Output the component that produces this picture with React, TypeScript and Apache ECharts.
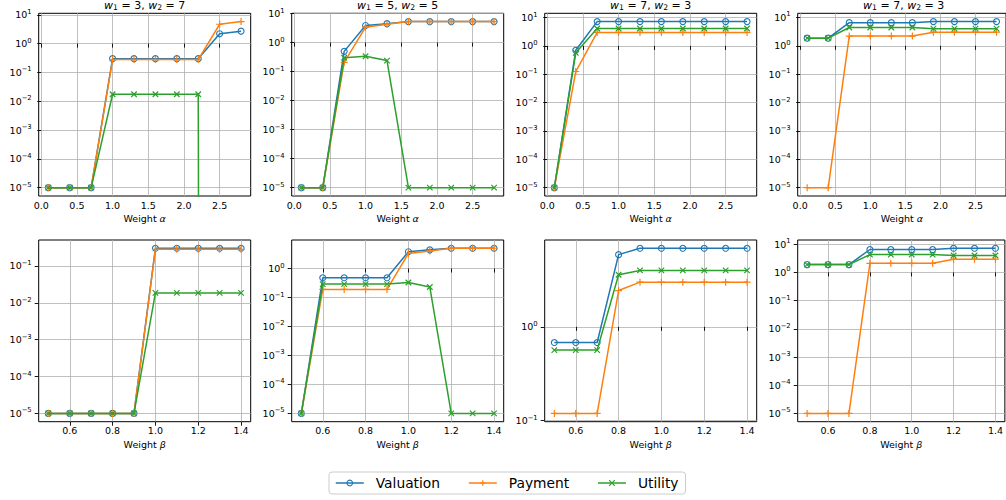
import { useEffect, useRef } from 'react';
import * as echarts from 'echarts';

// ---------- data ----------
const alphaValues = [0.1, 0.4, 0.7, 1.0, 1.3, 1.6, 1.9, 2.2, 2.5, 2.8];
const betaValues = [0.5, 0.6, 0.7, 0.8, 0.9, 1.0, 1.1, 1.2, 1.3, 1.4];
const alphaTicks = [0, 0.5, 1.0, 1.5, 2.0, 2.5];
const betaTicks = [0.6, 0.8, 1.0, 1.2, 1.4];
const titleW1 = [3, 5, 7, 7];
const titleW2 = [7, 5, 3, 3];
const seriesNames = ['Valuation', 'Payment', 'Utility'];

// top row (alpha)
const valuationA1 = [1e-5, 1e-5, 1e-5, 0.3, 0.3, 0.3, 0.3, 0.3, 2.2, 2.7];
const paymentA1 = [1e-5, 1e-5, 1e-5, 0.28, 0.28, 0.28, 0.28, 0.28, 4.7, 5.8];
const utilityA1 = [1e-5, 1e-5, 1e-5, 0.0175, 0.0175, 0.0175, 0.0175, 0.0175, 0, 0];

const valuationA2 = [1e-5, 1e-5, 0.5, 3.9, 4.5, 5.3, 5.3, 5.3, 5.3, 5.3];
const paymentA2 = [1e-5, 1e-5, 0.21, 3.4, 4.3, 5.3, 5.3, 5.3, 5.3, 5.3];
const utilityA2 = [1e-5, 1e-5, 0.3, 0.34, 0.24, 1e-5, 1e-5, 1e-5, 1e-5, 1e-5];

const valuationA3 = [1e-5, 0.7, 7.2, 7.2, 7.2, 7.2, 7.2, 7.2, 7.2, 7.2];
const paymentA3 = [1e-5, 0.125, 3.0, 3.0, 3.0, 3.0, 3.0, 3.0, 3.0, 3.0];
const utilityA3 = [1e-5, 0.57, 4.1, 4.1, 4.1, 4.1, 4.1, 4.1, 4.1, 4.1];

const valuationA4 = [1.85, 1.85, 6.5, 6.5, 6.5, 6.5, 7.1, 7.1, 7.1, 7.1];
const paymentA4 = [1e-5, 1e-5, 2.2, 2.2, 2.2, 2.2, 3.0, 3.0, 3.0, 3.0];
const utilityA4 = [1.85, 1.85, 4.4, 4.4, 4.4, 4.4, 4.0, 4.0, 4.0, 4.0];

// bottom row (beta)
const valuationB1 = [1e-5, 1e-5, 1e-5, 1e-5, 1e-5, 0.3, 0.3, 0.3, 0.3, 0.3];
const paymentB1 = [1e-5, 1e-5, 1e-5, 1e-5, 1e-5, 0.28, 0.28, 0.28, 0.28, 0.28];
const utilityB1 = [1e-5, 1e-5, 1e-5, 1e-5, 1e-5, 0.0185, 0.0185, 0.0185, 0.0185, 0.0185];

const valuationB2 = [1e-5, 0.48, 0.48, 0.48, 0.48, 3.8, 4.4, 5.0, 5.0, 5.0];
const paymentB2 = [1e-5, 0.19, 0.19, 0.19, 0.19, 3.3, 4.0, 5.0, 5.0, 5.0];
const utilityB2 = [1e-5, 0.29, 0.29, 0.29, 0.29, 0.33, 0.23, 1e-5, 1e-5, 1e-5];

const valuationB3 = [0.68, 0.68, 0.68, 5.9, 6.9, 6.9, 6.9, 6.9, 6.9, 6.9];
const paymentB3 = [0.119, 0.119, 0.119, 2.44, 3.0, 3.0, 3.0, 3.0, 3.0, 3.0];
const utilityB3 = [0.565, 0.565, 0.565, 3.6, 4.0, 4.0, 4.0, 4.0, 4.0, 4.0];

const valuationB4 = [1.9, 1.9, 1.9, 6.5, 6.5, 6.5, 6.5, 7.2, 7.2, 7.2];
const paymentB4 = [1e-5, 1e-5, 1e-5, 2.1, 2.1, 2.1, 2.1, 2.95, 2.95, 2.95];
const utilityB4 = [1.9, 1.9, 1.9, 4.3, 4.3, 4.3, 4.3, 4.0, 4.0, 4.0];

// ---------- styling / layout ----------
const FONT = '"DejaVu Sans", sans-serif';
const COLORS = ['#1f77b4', '#ff7f0e', '#2ca02c'];
const SYMBOLS = ['circle', 'path://M5,0L5,10M0,5L10,5', 'path://M0,0L10,10M10,0L0,10'];
const SYMBOL_SIZES = [6, 7, 5.5];
const PANEL_LEFTS = [38.7, 291.7, 544.7, 797.7];
const PANEL_WIDTH = 212;
const ROW_TOPS = [13.3, 240];
const ROW_HEIGHTS = [182.7, 181.7];
const GRID_COLOR = '#b0b0b0';

type Panel = {
  row: number;
  col: number;
  x: number[];
  ticks: number[];
  greek: string;
  values: number[][];
};

const panels: Panel[] = [
  { row: 0, col: 0, x: alphaValues, ticks: alphaTicks, greek: 'α', values: [valuationA1, paymentA1, utilityA1] },
  { row: 0, col: 1, x: alphaValues, ticks: alphaTicks, greek: 'α', values: [valuationA2, paymentA2, utilityA2] },
  { row: 0, col: 2, x: alphaValues, ticks: alphaTicks, greek: 'α', values: [valuationA3, paymentA3, utilityA3] },
  { row: 0, col: 3, x: alphaValues, ticks: alphaTicks, greek: 'α', values: [valuationA4, paymentA4, utilityA4] },
  { row: 1, col: 0, x: betaValues, ticks: betaTicks, greek: 'β', values: [valuationB1, paymentB1, utilityB1] },
  { row: 1, col: 1, x: betaValues, ticks: betaTicks, greek: 'β', values: [valuationB2, paymentB2, utilityB2] },
  { row: 1, col: 2, x: betaValues, ticks: betaTicks, greek: 'β', values: [valuationB3, paymentB3, utilityB3] },
  { row: 1, col: 3, x: betaValues, ticks: betaTicks, greek: 'β', values: [valuationB4, paymentB4, utilityB4] },
];

// log10 transform; non-positive values are clipped far below the axis (like matplotlib)
const logv = (v: number) => (v > 0 ? Math.log10(v) : -300);

function padRange(vals: number[]): [number, number] {
  const lo = Math.min(...vals);
  const hi = Math.max(...vals);
  const p = (hi - lo) * 0.05;
  return [lo - p, hi + p];
}

const supText = (e: number) => (e < 0 ? '\u2212' + -e : String(e));

const itemStyleFor = (k: number) =>
  k === 0
    ? { color: 'rgba(0,0,0,0)', borderColor: COLORS[k], borderWidth: 1.1 }
    : { color: COLORS[k], borderColor: COLORS[k], borderWidth: 1.2 };

function buildOption() {
  const grid: any[] = [];
  const xAxis: any[] = [];
  const yAxis: any[] = [];
  const series: any[] = [];
  const title: any[] = [];

  panels.forEach((p, i) => {
    grid.push({
      left: PANEL_LEFTS[p.col],
      top: ROW_TOPS[p.row],
      width: PANEL_WIDTH,
      height: ROW_HEIGHTS[p.row],
      show: true,
      borderColor: '#000',
      borderWidth: 1,
      containLabel: false,
    });

    const [xmin, xmax] = padRange(p.x);
    xAxis.push({
      type: 'value',
      gridIndex: i,
      min: xmin,
      max: xmax,
      axisLine: { show: false },
      axisTick: { show: true, length: 4, lineStyle: { color: '#000', width: 0.9 }, customValues: p.ticks },
      axisLabel: {
        customValues: p.ticks,
        margin: 4,
        fontSize: 9.5,
        color: '#000',
        fontFamily: FONT,
        formatter: (v: number) => v.toFixed(1),
      },
      splitLine: { show: true, lineStyle: { color: GRID_COLOR, width: 0.8 } },
      name: `{n|Weight }{g|${p.greek}}`,
      nameLocation: 'middle',
      nameGap: 17.5,
      nameTextStyle: {
        rich: {
          n: { fontSize: 9.5, fontFamily: FONT, color: '#000' },
          g: { fontSize: 9.5, fontFamily: FONT, fontStyle: 'italic', color: '#000' },
        },
      },
    });

    const positives = p.values.flat().filter((v) => v > 0).map(Math.log10);
    const [ymin, ymax] = padRange(positives);
    const yTicks: number[] = [];
    for (let e = Math.ceil(ymin); e <= Math.floor(ymax); e++) yTicks.push(e);
    yAxis.push({
      type: 'value',
      gridIndex: i,
      min: ymin,
      max: ymax,
      axisLine: { show: false },
      axisTick: { show: true, length: 4, lineStyle: { color: '#000', width: 0.9 }, customValues: yTicks },
      axisLabel: {
        customValues: yTicks,
        margin: 7,
        formatter: (v: number) => `{b|10}{s|${supText(Math.round(v))}}`,
        rich: {
          b: { fontSize: 9.5, lineHeight: 13, fontFamily: FONT, color: '#000' },
          s: { fontSize: 6.8, lineHeight: 7, verticalAlign: 'top', fontFamily: FONT, color: '#000' },
        },
      },
      splitLine: { show: true, lineStyle: { color: GRID_COLOR, width: 0.8 } },
    });

    p.values.forEach((vals, k) => {
      series.push({
        name: seriesNames[k],
        type: 'line',
        xAxisIndex: i,
        yAxisIndex: i,
        data: p.x.map((xv, j) => [xv, logv(vals[j])]),
        symbol: SYMBOLS[k],
        symbolSize: SYMBOL_SIZES[k],
        showSymbol: true,
        clip: true,
        silent: true,
        lineStyle: { color: COLORS[k], width: 1.5 },
        itemStyle: itemStyleFor(k),
        emphasis: { disabled: true },
        z: 2 + k,
      });
    });
  });

  titleW1.forEach((w1, c) => {
    title.push({
      text: `{i|w}{s|1}{n| = ${w1}, }{i|w}{s|2}{n| = ${titleW2[c]}}`,
      left: PANEL_LEFTS[c] + PANEL_WIDTH / 2,
      top: 5.5,
      padding: 0,
      textAlign: 'center',
      textVerticalAlign: 'middle',
      textStyle: {
        fontWeight: 'normal',
        rich: {
          i: { fontSize: 11, fontStyle: 'italic', fontWeight: 'normal', fontFamily: FONT, color: '#000', lineHeight: 11 },
          s: { fontSize: 7.7, fontWeight: 'normal', fontFamily: FONT, color: '#000', lineHeight: 7, verticalAlign: 'bottom' },
          n: { fontSize: 11, fontWeight: 'normal', fontFamily: FONT, color: '#000', lineHeight: 11 },
        },
      },
    });
  });

  return {
    animation: false,
    backgroundColor: '#ffffff',
    title,
    grid,
    xAxis,
    yAxis,
    series,
    legend: {
      data: seriesNames.map((n, k) => ({
        name: n,
        itemStyle: itemStyleFor(k),
        lineStyle: { color: COLORS[k], width: 1.5 },
      })),
      left: 329,
      top: 472,
      orient: 'horizontal',
      itemWidth: 28,
      itemHeight: 7,
      itemGap: 28,
      padding: [4, 7, 4, 6],
      borderColor: '#cccccc',
      borderWidth: 1,
      borderRadius: 3,
      selectedMode: false,
      textStyle: { fontSize: 13.8, color: '#000', fontFamily: FONT, padding: [0, 0, 0, 7] },
    },
  };
}

export default function App() {
  const ref = useRef<HTMLDivElement>(null);
  useEffect(() => {
    document.body.style.margin = '0';
    if (!ref.current) return;
    const chart = echarts.init(ref.current, undefined, { renderer: 'svg' });
    chart.setOption(buildOption() as any);
    return () => chart.dispose();
  }, []);
  return (
    <div
      ref={ref}
      style={{ position: 'absolute', left: 0, top: 0, width: 1006, height: 500, background: '#fff' }}
    />
  );
}
